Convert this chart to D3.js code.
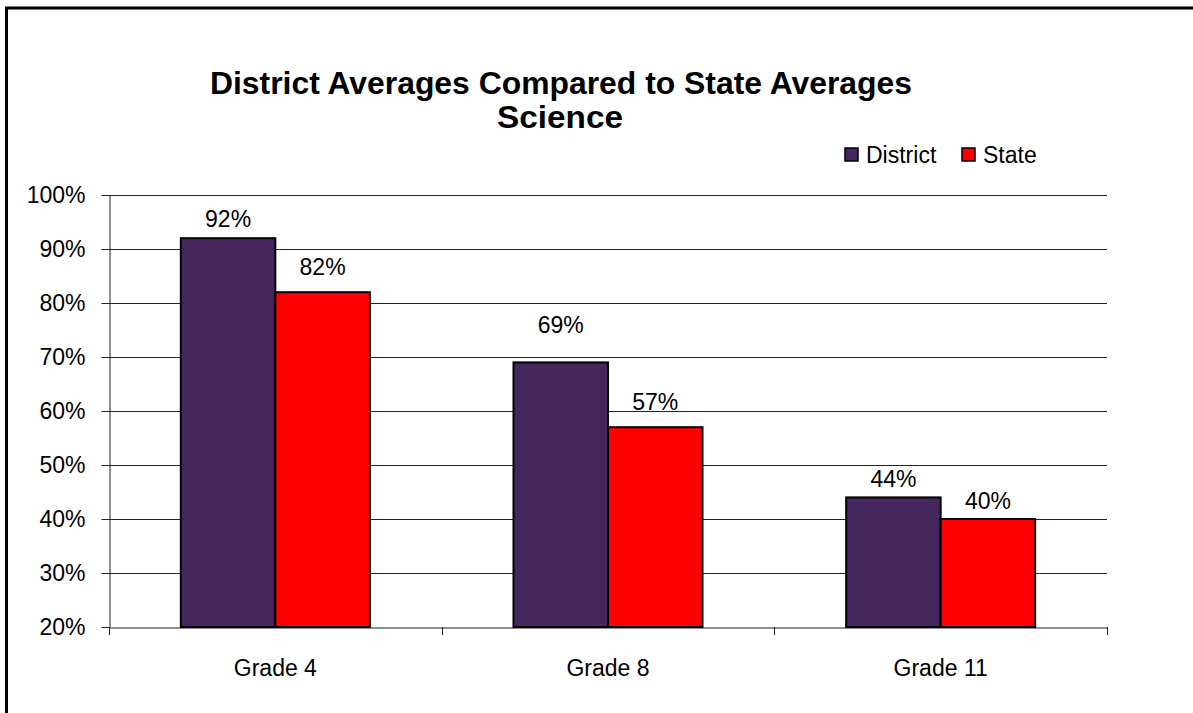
<!DOCTYPE html>
<html>
<head>
<meta charset="utf-8">
<script src="https://cdn.jsdelivr.net/npm/d3@7"></script>
<style>
  html, body { margin: 0; padding: 0; background: #fff; overflow: hidden; }
  text { font-family: "Liberation Sans", Arial, sans-serif; fill: #000; }
</style>
</head>
<body>
<script>
// ---- Data ----
const categories = ["Grade 4", "Grade 8", "Grade 11"];
const seriesNames = ["District", "State"];
const districtValues = [0.92, 0.69, 0.44];
const stateValues = [0.82, 0.57, 0.40];
const yTicks = [0.2, 0.3, 0.4, 0.5, 0.6, 0.7, 0.8, 0.9, 1.0];
const titleLines = ["District Averages Compared to State Averages", "Science"];

// ---- Style ----
const colors = { District: "#45275E", State: "#FF0000" };
// extra lift of each value label above its bar (Excel placement), [district, state] per category
const labelLift = [[11, 17], [29, 17], [10, 10]];

const W = 1193, H = 713;
const svg = d3.select("body").append("svg").attr("width", W).attr("height", H);

// outer chart border (runs off right/bottom)
svg.append("rect").attr("x", 6.5).attr("y", 8).attr("width", 1400).attr("height", 1000)
  .attr("fill", "none").attr("stroke", "#000").attr("stroke-width", 3);

const plot = { left: 109, right: 1107, top: 195, bottom: 627 };

const y = d3.scaleLinear().domain([0.2, 1.0]).range([plot.bottom, plot.top]);
const x0 = d3.scaleBand().domain(categories).range([plot.left, plot.right]).paddingInner(0).paddingOuter(0);
const x1 = d3.scaleBand().domain(seriesNames).range([0, x0.bandwidth()]).paddingInner(0).paddingOuter(0.76);

// gridlines
svg.append("g").selectAll("line").data(yTicks.slice(1)).join("line")
  .attr("x1", plot.left).attr("x2", plot.right)
  .attr("y1", d => Math.round(y(d)) + 0.5).attr("y2", d => Math.round(y(d)) + 0.5)
  .attr("stroke", "#222").attr("stroke-width", 1);

// y axis
const yAxis = svg.append("g").attr("transform", `translate(${plot.left + 0.5},0)`)
  .call(d3.axisLeft(y).tickValues(yTicks).tickFormat(d3.format(".0%")).tickSize(8).tickPadding(16));
yAxis.select(".domain").attr("stroke", "#222");
yAxis.selectAll(".tick line").attr("stroke", "#222");
yAxis.selectAll("text").attr("font-size", 23).attr("font-family", "Liberation Sans, Arial, sans-serif").attr("fill", "#000");

// x axis
const xAxis = svg.append("g").attr("transform", `translate(0,${Math.round(plot.bottom) + 0.5})`)
  .call(d3.axisBottom(x0).tickSizeInner(0).tickSizeOuter(0).tickPadding(32));
xAxis.select(".domain").attr("stroke", "#222");
xAxis.selectAll("text").attr("font-size", 23).attr("font-family", "Liberation Sans, Arial, sans-serif").attr("fill", "#000");
// boundary tick marks between categories
const bounds = [plot.left].concat(categories.map(c => x0(c) + x0.bandwidth()));
svg.append("g").selectAll("line").data(bounds).join("line")
  .attr("x1", d => Math.round(d) + 0.5).attr("x2", d => Math.round(d) + 0.5)
  .attr("y1", plot.bottom).attr("y2", plot.bottom + 8)
  .attr("stroke", "#222");

// bars
const rows = categories.map((c, i) => ({ cat: c, i, vals: [
  { s: "District", v: districtValues[i], j: 0 },
  { s: "State", v: stateValues[i], j: 1 }] }));

const groups = svg.append("g").selectAll("g").data(rows).join("g")
  .attr("transform", d => `translate(${x0(d.cat)},0)`);

groups.selectAll("rect").data(d => d.vals.map(v => ({ ...v, i: d.i }))).join("rect")
  .attr("x", d => x1(d.s)).attr("width", x1.bandwidth())
  .attr("y", d => y(d.v)).attr("height", d => y(0.2) - y(d.v))
  .attr("fill", d => colors[d.s]).attr("stroke", "#000").attr("stroke-width", 2);

groups.selectAll("text.lbl").data(d => d.vals.map(v => ({ ...v, i: d.i }))).join("text")
  .attr("class", "lbl")
  .attr("x", d => x1(d.s) + x1.bandwidth() / 2)
  .attr("y", d => y(d.v) - labelLift[d.i][d.j])
  .attr("text-anchor", "middle").attr("font-size", 23)
  .text(d => d3.format(".0%")(d.v));

// title
svg.append("text").attr("x", 561).attr("y", 94).attr("text-anchor", "middle")
  .attr("font-size", 32).attr("font-weight", "bold")
  .attr("textLength", 702).attr("lengthAdjust", "spacingAndGlyphs").text(titleLines[0]);
svg.append("text").attr("x", 560).attr("y", 128).attr("text-anchor", "middle")
  .attr("font-size", 32).attr("font-weight", "bold")
  .attr("textLength", 126).attr("lengthAdjust", "spacingAndGlyphs").text(titleLines[1]);

// legend
const legendX = [845, 962];
const lg = svg.append("g").selectAll("g").data(seriesNames).join("g")
  .attr("transform", (d, k) => `translate(${legendX[k]},148)`);
lg.append("rect").attr("width", 13).attr("height", 13)
  .attr("fill", d => colors[d]).attr("stroke", "#000").attr("stroke-width", 1.5);
lg.append("text").attr("x", 21).attr("y", 15).attr("font-size", 23).text(d => d);
</script>
</body>
</html>
